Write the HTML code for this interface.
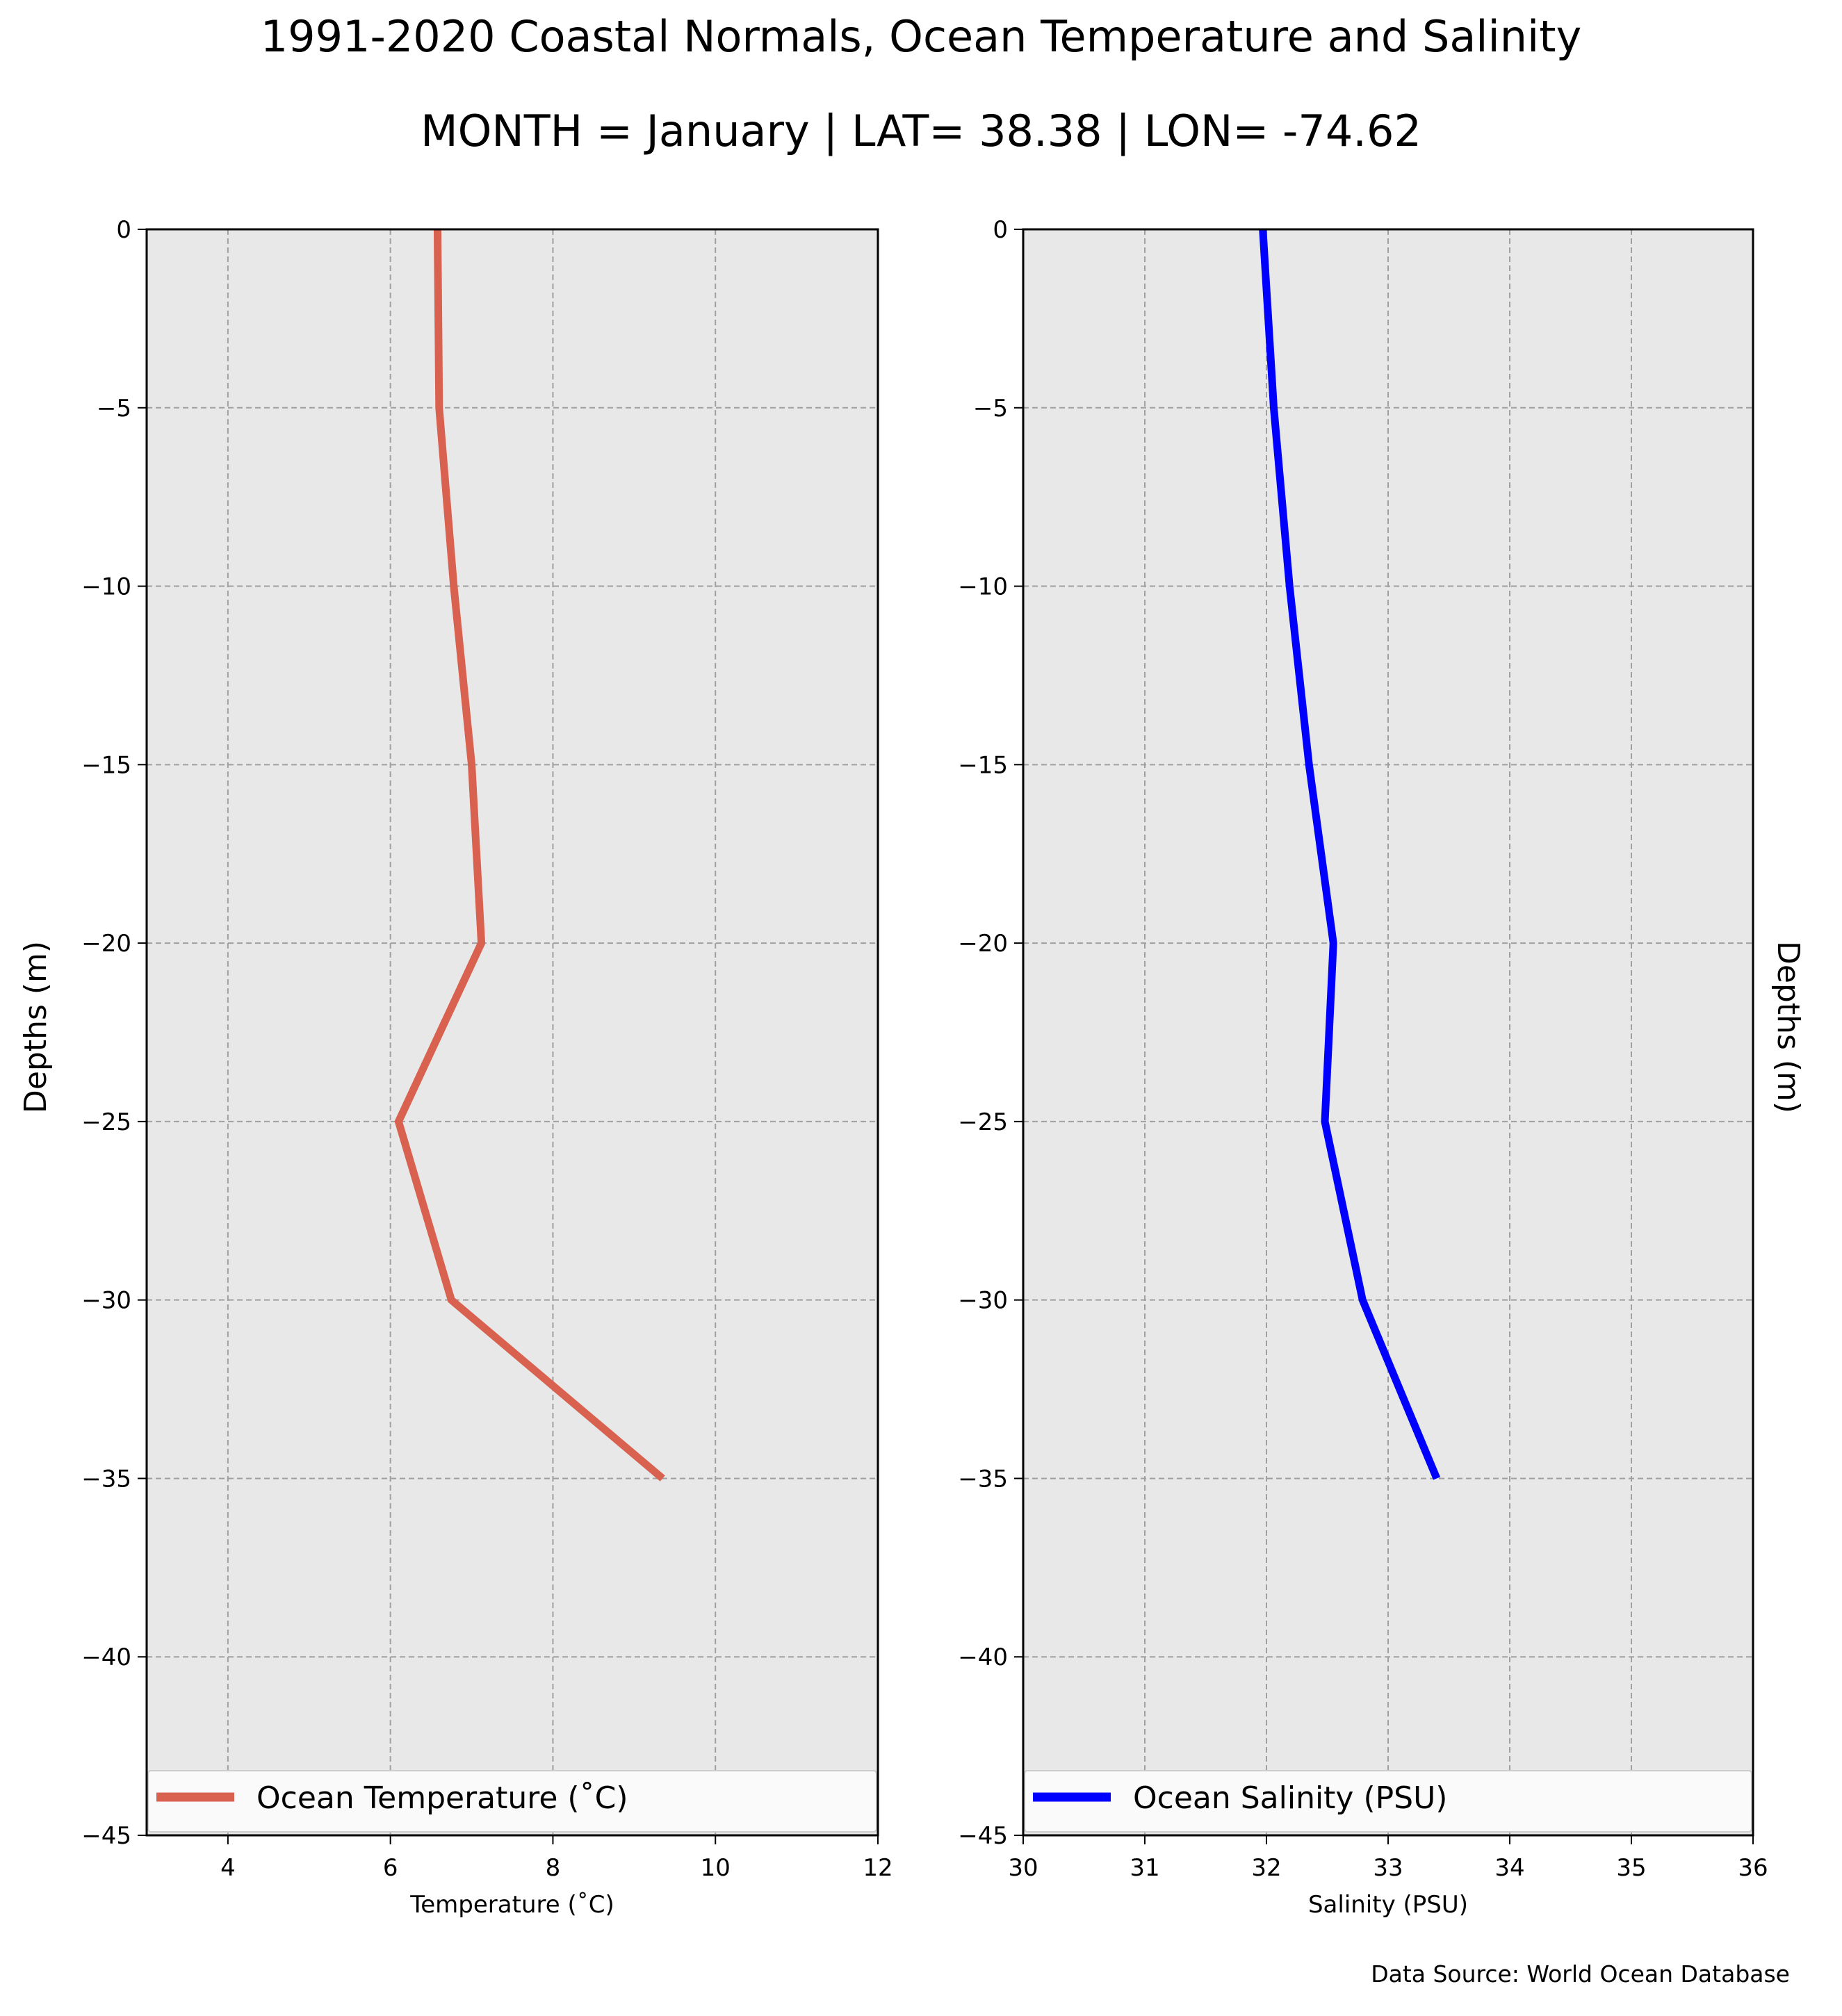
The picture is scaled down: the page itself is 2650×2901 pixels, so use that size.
<!DOCTYPE html>
<html><head><meta charset="utf-8"><style>body{margin:0;background:#fff}svg{display:block}text{font-family:"DejaVu Sans","Liberation Sans",sans-serif}</style></head>
<body>
<svg id="c" width="2650" height="2901" xmlns="http://www.w3.org/2000/svg">
<text x="1325" y="74" font-size="62" text-anchor="middle">1991-2020 Coastal Normals, Ocean Temperature and Salinity</text>
<text x="1325" y="210" font-size="62" text-anchor="middle">MONTH = January | LAT= 38.38 | LON= -74.62</text>
<text transform="translate(66,1478) rotate(-90)" font-size="44" text-anchor="middle">Depths (m)</text>
<text transform="translate(2558,1478) rotate(90)" font-size="44" text-anchor="middle">Depths (m)</text>
<text x="2575" y="2852" font-size="33" text-anchor="end">Data Source: World Ocean Database</text>
<g id="p1"></g>
<g id="p2"></g>
</svg>
<script>
const depths=[0,-5,-10,-15,-20,-25,-30,-35];
const tempValues=[6.58,6.6,6.78,7.0,7.12,6.1,6.75,9.35];
const salValues=[31.97,32.06,32.19,32.35,32.55,32.48,32.79,33.4];
const depthTicks=[0,-5,-10,-15,-20,-25,-30,-35,-40,-45];
const tempTicks=[4,6,8,10,12];
const salTicks=[30,31,32,33,34,35,36];
const NS='http://www.w3.org/2000/svg';
function mk(p,t,a){const e=document.createElementNS(NS,t);for(const k in a)e.setAttribute(k,a[k]);p.appendChild(e);return e;}
const yTop=330,yBot=2641;
const yS=d=>yTop+(0-d)/45*(yBot-yTop);
function panel(g,x0,x1,xmin,xmax,xt,vals,color,label,xlab){
 const xS=v=>x0+(v-xmin)/(xmax-xmin)*(x1-x0);
 let r=mk(g,'rect',{x:x0,y:yTop,width:x1-x0,height:yBot-yTop,fill:'#e8e8e8'});
 
 
 xt.forEach(v=>{let l=mk(g,'line',{x1:xS(v),x2:xS(v),y1:yTop,y2:yBot,stroke:'#a0a0a0','stroke-width':2,'stroke-dasharray':'8,5'});
  
  
  let tk=mk(g,'line',{x1:xS(v),x2:xS(v),y1:yBot,y2:yBot+13,stroke:'#000','stroke-width':2});
  
  
  let t=mk(g,'text',{x:xS(v),y:yBot+58,'font-size':34,'text-anchor':'middle'});t.textContent=v;
  
  });
 depthTicks.forEach(d=>{let l=mk(g,'line',{x1:x0,x2:x1,y1:yS(d),y2:yS(d),stroke:'#a0a0a0','stroke-width':2,'stroke-dasharray':'8,5'});
  
  
  let tk=mk(g,'line',{x1:x0-13,x2:x0,y1:yS(d),y2:yS(d),stroke:'#000','stroke-width':2});
  
  
  let t=mk(g,'text',{x:x0-22,y:yS(d)+12,'font-size':34,'text-anchor':'end'});t.textContent=d<0?'\u2212'+(-d):d;
  
  });
 let pl=mk(g,'polyline',{points:vals.map((v,i)=>xS(v)+','+yS(depths[i])).join(' '),fill:'none',stroke:color,'stroke-width':11,'stroke-linejoin':'miter'});
 
 
 let lg=mk(g,'rect',{x:x0+2,y:2548,width:x1-x0-4,height:88,fill:'#fafafa',stroke:'#cccccc','stroke-width':2,rx:4});
 
 
 let ls=mk(g,'line',{x1:x0+14,x2:x0+126,y1:2586,y2:2586,stroke:color,'stroke-width':13});
 
 
 let lt=mk(g,'text',{x:x0+158,y:2602,'font-size':44});lt.textContent=label;
 
 
 let fr=mk(g,'rect',{x:x0,y:yTop,width:x1-x0,height:yBot-yTop,fill:'none',stroke:'#000','stroke-width':3});
 
 
 let xl=mk(g,'text',{x:(x0+x1)/2,y:2752,'font-size':34,'text-anchor':'middle'});xl.textContent=xlab;
 
 
}
panel(document.getElementById('p1'),211,1263,3,12,tempTicks,tempValues,'#d9614f','Ocean Temperature (\u02daC)','Temperature (\u02daC)');
panel(document.getElementById('p2'),1472,2522,30,36,salTicks,salValues,'#0000ff','Ocean Salinity (PSU)','Salinity (PSU)');
</script>
</body></html>
